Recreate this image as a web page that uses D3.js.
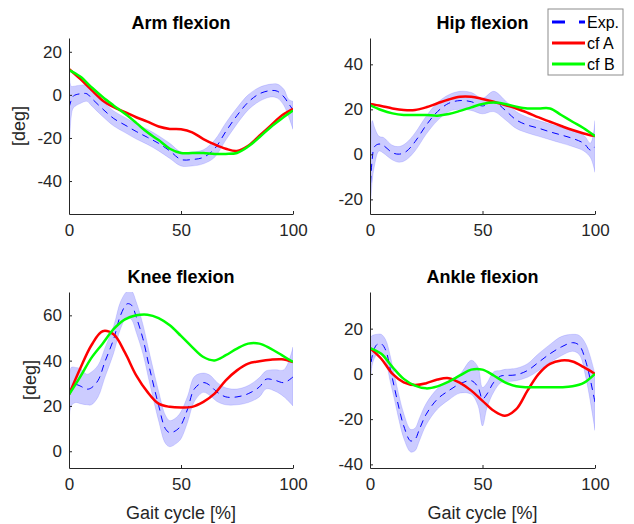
<!DOCTYPE html>
<html>
<head>
<meta charset="utf-8">
<script src="https://cdn.jsdelivr.net/npm/d3@7"></script>
<style>
  body { margin: 0; background: #fff; }
  svg { font-family: "Liberation Sans", Arial, sans-serif; }
</style>
</head>
<body>
<div id="chart"></div>
<script>
// ---- data ----
const titles = ["Arm flexion", "Hip flexion", "Knee flexion", "Ankle flexion"];
const xTicks = [0, 50, 100];
const simX = [0, 5, 10, 15, 20, 25, 30, 35, 40, 45, 50, 55, 60, 65, 70, 75, 80, 85, 90, 95, 100];

// Arm flexion
const armExpX    = [0, 1, 2, 5, 8, 10, 15, 20, 25, 30, 35, 40, 45, 50, 55, 60, 65, 70, 75, 80, 85, 90, 93, 96, 98, 100];
const armExpMean = [-6, -2.5, -0.5, 0.5, 0.5, -1.5, -6.5, -11, -14, -17, -19.7, -22.5, -26, -30, -30, -29, -25, -17, -9.6, -3.4, 0.5, 2, 1.7, -1, -4, -7];
const armExpHi   = [18, 4, 4, 4.5, 4.5, 2, -3, -7.5, -10.5, -13.5, -16, -19, -22.5, -26.5, -26.5, -25.5, -21, -13, -6, 0, 3.5, 5, 5, 2.5, -2, -3];
const armExpLo   = [-35, -10, -6, -4, -3, -5, -10, -14.5, -17.5, -20.5, -23, -26, -29.5, -33, -33, -32, -29, -21, -13.5, -7, -3, -1, -1.5, -5, -10, -16];
const armCfA     = [12, 7.4, 2.3, -2.6, -5.7, -8, -10.4, -12.4, -14.7, -15.8, -16, -17.4, -20.5, -23, -25, -26, -23.6, -19, -14.3, -9.6, -6.5];
const armCfB     = [11.5, 8.5, 3.6, -1, -5, -8.8, -13, -17.4, -21, -25, -27, -27, -27, -27.4, -27.4, -27, -24, -19.7, -15, -11, -7.3];

// Hip flexion
const hipExpX    = [0, 1, 2, 4, 6, 10, 13, 16, 20, 25, 30, 35, 40, 45, 50, 55, 60, 65, 70, 75, 80, 85, 90, 95, 98, 100];
const hipExpMean = [-18, -2, 3.4, 4.6, 3.9, 0.7, 0.1, 1.2, 5.6, 13, 19, 22.7, 23.9, 23.4, 21.5, 23.4, 19.7, 15.3, 13, 11.6, 10, 8.6, 7.1, 4.9, 1.9, 3.4];
const hipExpHi   = [-10, 15, 12, 8, 7.5, 4, 3.5, 5, 9.5, 17, 23, 26.5, 28, 27.5, 25, 28, 24, 19, 16.5, 15, 13.5, 12, 10.5, 8.5, 5, 15];
const hipExpLo   = [-27, -12, -5, 1.5, 0.5, -2.5, -3.5, -2.5, 1.5, 9, 15, 19, 20, 19.5, 18, 19, 15.5, 11.5, 9.5, 8, 6.5, 5, 3.5, 1.5, -1.5, -8];
const hipCfA     = [22.4, 21.5, 20.4, 19.7, 19.7, 20.9, 22.7, 24.4, 25.6, 25.6, 24.6, 23.4, 21.9, 20.4, 18.5, 16.4, 14.5, 12.6, 10.8, 9.3, 8.1];
const hipCfB     = [21.9, 19.7, 18.2, 17.5, 17.5, 17.5, 17.2, 17.9, 19.3, 20.9, 22.4, 23, 22.4, 21.2, 20.4, 20.4, 20.4, 17.5, 14.5, 11.6, 8.1];

// Knee flexion
const kneeExpX    = [0, 1, 3, 5, 8, 10, 13, 16, 20, 23, 26, 28, 30, 33, 36, 40, 43, 45, 48, 50, 53, 56, 60, 63, 66, 70, 75, 80, 85, 88, 92, 96, 100];
const kneeExpMean = [20, 27.6, 29.4, 28.8, 27.4, 28, 31.3, 39.4, 49.7, 60, 65.1, 64.4, 59.3, 49.7, 36.5, 20.3, 10, 8.2, 9.3, 11.5, 18.8, 27.6, 30.3, 29, 26.2, 24, 24, 25.4, 28.4, 31.8, 31.3, 30.3, 32.8];
const kneeExpHi   = [30, 37, 37, 36.5, 34, 35, 38, 45.5, 55.5, 66, 70.6, 70.6, 66, 56, 43, 26.5, 16, 13.5, 15, 17.5, 24.5, 33, 34.5, 33.5, 30.5, 28, 27.5, 29, 32.5, 35.5, 36, 36, 46];
const kneeExpLo   = [8, 20, 21.5, 21, 20.5, 20.5, 24, 32.5, 43.5, 54, 59.5, 58, 52.5, 43, 30, 13.5, 3.5, 2, 3.5, 5.5, 13, 22, 26, 24.5, 22, 20.5, 20.5, 21.5, 24, 27.5, 26.5, 24, 20];
const kneeCfA     = [25, 36.5, 46.8, 53, 51.5, 43.5, 33.5, 26.2, 21, 19.6, 19.3, 19.6, 21.8, 25.4, 31.3, 35.7, 38.7, 39.7, 40.4, 40.6, 39.4];
const kneeCfB     = [25, 32.8, 41.2, 47.5, 54, 58.2, 60, 60.3, 58.8, 55.6, 50.9, 46, 41.6, 40.1, 42.4, 45.3, 47.5, 47.5, 45.3, 42.4, 39.4];

// Ankle flexion
const ankleExpX    = [0, 1, 3, 5, 7, 9, 11, 13, 15, 18, 20, 22, 25, 30, 35, 40, 45, 48, 50, 52, 55, 58, 60, 65, 70, 75, 80, 85, 90, 93, 96, 100];
const ankleExpMean = [0, 8, 12.9, 13.3, 10.4, 2.2, -6.7, -15.6, -23, -29.6, -28.9, -24.4, -17.8, -11.1, -7.4, -4.4, -3, -5.9, -11.1, -8.9, -3.7, -1, -0.7, -0.4, 1.5, 5.2, 8.9, 11.9, 13.8, 12.6, 5.2, -12.6];
const ankleExpHi   = [16, 17, 17.5, 17.5, 15, 8, -1, -10, -17.5, -24.5, -24, -19.5, -13, -6.5, -3, 0, 6, 3, -6, -4, 1, 1.5, 2, 2.5, 4.5, 9, 13, 16.5, 17.5, 17, 13, 0];
const ankleExpLo   = [-14, 4, 8.5, 9, 5.5, -3.5, -12, -21, -28.5, -34.5, -34, -29.5, -22.5, -15.5, -11.5, -8.5, -9, -14, -23, -15, -8, -4, -3.5, -3, -1.5, 1.5, 5, 8, 10, 8.5, -2, -25];
const ankleCfA     = [11.4, 6.7, 0, -3.7, -4.9, -4.1, -2.5, -1.9, -4, -7.4, -11.9, -16.3, -18.5, -15.6, -7.4, 0, 4.4, 5.9, 5.5, 3, 0];
const ankleCfB     = [11.4, 8.9, 3, -2.2, -5.2, -6.4, -5.5, -3.4, -0.7, 1.9, 1.9, -0.7, -3.7, -5.5, -5.9, -5.9, -5.9, -5.9, -5.5, -4, 0];

const yLims  = [[-55.3, 26.4], [-26.5, 51.7], [-7.4, 70.3], [-41.6, 36.2]];
const yTicks = [[-40, -20, 0, 20], [-20, 0, 20, 40], [0, 20, 40, 60], [-40, -20, 0, 20]];
const legendNames = ["Exp.", "cf A", "cf B"];

// ---- layout ----
const W = 634, H = 524;
const boxes = [
  { left: 69,  top: 38,  w: 224, h: 176 },
  { left: 370, top: 38,  w: 225, h: 176 },
  { left: 69,  top: 292, w: 224, h: 176 },
  { left: 370, top: 292, w: 225, h: 176 }
];
const axisColor = "#262626";
const bandColor = "#0000ff";

const panels = [
  { ex: armExpX,   em: armExpMean,   hi: armExpHi,   lo: armExpLo,   a: armCfA,   b: armCfB },
  { ex: hipExpX,   em: hipExpMean,   hi: hipExpHi,   lo: hipExpLo,   a: hipCfA,   b: hipCfB },
  { ex: kneeExpX,  em: kneeExpMean,  hi: kneeExpHi,  lo: kneeExpLo,  a: kneeCfA,  b: kneeCfB },
  { ex: ankleExpX, em: ankleExpMean, hi: ankleExpHi, lo: ankleExpLo, a: ankleCfA, b: ankleCfB }
];

const svg = d3.select("#chart").append("svg")
  .attr("width", W).attr("height", H);

panels.forEach((p, i) => {
  const b = boxes[i];
  const x = d3.scaleLinear().domain([0, 100]).range([0, b.w]);
  const y = d3.scaleLinear().domain(yLims[i]).range([b.h, 0]);

  const g = svg.append("g").attr("transform", `translate(${b.left},${b.top})`);

  g.append("clipPath").attr("id", "clip" + i)
    .append("rect").attr("width", b.w).attr("height", b.h);

  const plot = g.append("g").attr("clip-path", `url(#clip${i})`);

  // shaded band of experimental data
  const band = d3.area()
    .x((d, k) => x(p.ex[k]))
    .y0((d, k) => y(p.lo[k]))
    .y1((d, k) => y(p.hi[k]))
    .curve(d3.curveCatmullRom.alpha(0.5));
  plot.append("path")
    .attr("d", band(p.ex))
    .attr("fill", bandColor).attr("fill-opacity", 0.2)
    .attr("stroke", bandColor).attr("stroke-opacity", 0.12).attr("stroke-width", 1);

  const line = d3.line()
    .x(d => x(d[0])).y(d => y(d[1]))
    .curve(d3.curveCatmullRom.alpha(0.5));

  plot.append("path")
    .attr("d", line(p.ex.map((v, k) => [v, p.em[k]])))
    .attr("fill", "none").attr("stroke", "#0000ff")
    .attr("stroke-width", 1).attr("stroke-dasharray", "7,5");

  plot.append("path")
    .attr("d", line(simX.map((v, k) => [v, p.a[k]])))
    .attr("fill", "none").attr("stroke", "#ff0000").attr("stroke-width", 2.5);

  plot.append("path")
    .attr("d", line(simX.map((v, k) => [v, p.b[k]])))
    .attr("fill", "none").attr("stroke", "#00ff00").attr("stroke-width", 2.5);

  // axes (MATLAB style: inward ticks, box off, plain hyphen minus)
  const fmt = d => String(d);
  const xAxis = g.append("g").attr("transform", `translate(0,${b.h})`)
    .call(d3.axisBottom(x).tickValues(xTicks).tickFormat(fmt)
      .tickSizeInner(-3).tickSizeOuter(0).tickPadding(10));
  const yAxis = g.append("g")
    .call(d3.axisLeft(y).tickValues(yTicks[i]).tickFormat(fmt)
      .tickSizeInner(-3).tickSizeOuter(0).tickPadding(7));

  [xAxis, yAxis].forEach(ax => {
    ax.select(".domain").attr("stroke", axisColor);
    ax.selectAll(".tick line").attr("stroke", axisColor);
    ax.selectAll(".tick text").attr("fill", axisColor).style("font-size", "17px");
  });

  g.append("text")
    .attr("x", b.w / 2).attr("y", -9)
    .attr("text-anchor", "middle")
    .style("font-size", "18px").style("font-weight", "bold")
    .attr("fill", "#000")
    .text(titles[i]);

  if (i % 2 === 0) {
    const labelX = i === 0 ? -44 : -33;
    g.append("text")
      .attr("transform", `translate(${labelX},${b.h / 2}) rotate(-90)`)
      .attr("text-anchor", "middle")
      .style("font-size", "18px").attr("fill", axisColor)
      .text("[deg]");
  }
  if (i >= 2) {
    g.append("text")
      .attr("x", b.w / 2).attr("y", b.h + 51)
      .attr("text-anchor", "middle")
      .style("font-size", "18px").attr("fill", axisColor)
      .text("Gait cycle [%]");
  }
});

// legend
const leg = svg.append("g").attr("transform", "translate(548,9)");
leg.append("rect")
  .attr("width", 75).attr("height", 66)
  .attr("fill", "#fff").attr("stroke", "#8c8c8c").attr("stroke-width", 1);
const legStyles = [
  { color: "#0000ff", dash: "13,14" },
  { color: "#ff0000", dash: null },
  { color: "#00ff00", dash: null }
];
legendNames.forEach((name, k) => {
  const yy = 13 + k * 21;
  leg.append("line")
    .attr("x1", 4).attr("x2", 37).attr("y1", yy).attr("y2", yy)
    .attr("stroke", legStyles[k].color).attr("stroke-width", 3)
    .attr("stroke-dasharray", legStyles[k].dash);
  leg.append("text")
    .attr("x", 39).attr("y", yy).attr("dy", "0.35em")
    .style("font-size", "16px").attr("fill", "#000")
    .text(name);
});
</script>
</body>
</html>
